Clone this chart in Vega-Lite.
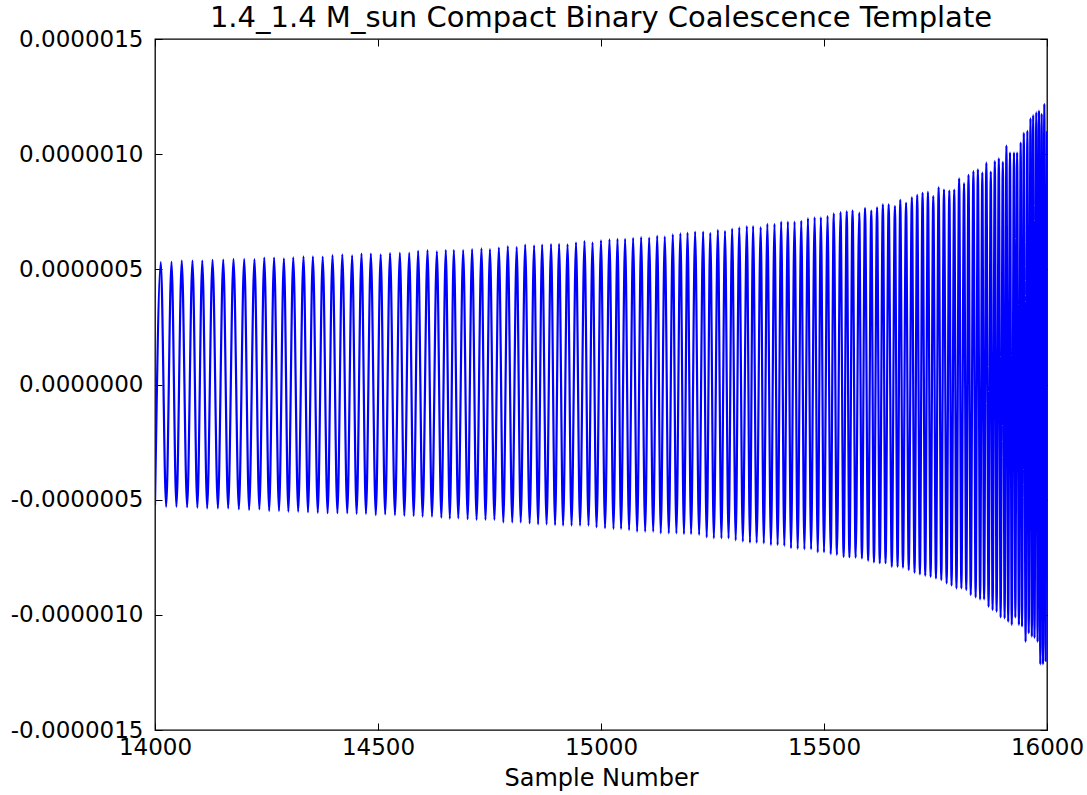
{
"$schema": "https://vega.github.io/schema/vega-lite/v6.json",
"width": 892,
"height": 691,
"autosize": {"type": "none"},
"padding": {"left": 155, "top": 39, "right": 40, "bottom": 65},
"background": "white",
"title": {"text": "1.4_1.4 M_sun Compact Binary Coalescence Template", "font": "DejaVu Sans", "fontSize": 29, "fontWeight": "normal", "color": "#000", "anchor": "middle", "offset": -5},
"config": {
  "view": {"stroke": "#000", "strokeWidth": 1.3},
  "axis": {"domain": false, "grid": false, "labelFont": "DejaVu Sans", "labelFontSize": 23, "labelColor": "#000", "tickColor": "#000", "tickSize": -7, "tickWidth": 1, "titleFont": "DejaVu Sans", "titleFontSize": 24, "titleFontWeight": "normal", "titleColor": "#000", "labelFlush": false, "labelOverlap": false}
},
"data": {"values": [
{"s":14000,"h":-5.23e-7},{"s":14013,"h":5.31e-7},{"s":14025,"h":-5.31e-7},{"s":14037,"h":5.33e-7},{"s":14048,"h":-5.31e-7},{"s":14060,"h":5.38e-7},{"s":14072,"h":-5.33e-7},{"s":14084,"h":5.38e-7},{"s":14095,"h":-5.35e-7},{"s":14106,"h":5.38e-7},
{"s":14117,"h":-5.38e-7},{"s":14129,"h":5.41e-7},{"s":14141,"h":-5.38e-7},{"s":14153,"h":5.42e-7},{"s":14164,"h":-5.38e-7},{"s":14176,"h":5.45e-7},{"s":14188,"h":-5.42e-7},{"s":14200,"h":5.45e-7},{"s":14211,"h":-5.45e-7},{"s":14223,"h":5.44e-7},
{"s":14234,"h":-5.42e-7},{"s":14245,"h":5.51e-7},{"s":14256,"h":-5.49e-7},{"s":14267,"h":5.51e-7},{"s":14278,"h":-5.49e-7},{"s":14289,"h":5.48e-7},{"s":14299,"h":-5.52e-7},{"s":14310,"h":5.52e-7},{"s":14321,"h":-5.52e-7},{"s":14333,"h":5.56e-7},
{"s":14343,"h":-5.55e-7},{"s":14354,"h":5.56e-7},{"s":14365,"h":-5.57e-7},{"s":14376,"h":5.55e-7},{"s":14387,"h":-5.59e-7},{"s":14398,"h":5.62e-7},{"s":14409,"h":-5.59e-7},{"s":14420,"h":5.65e-7},{"s":14431,"h":-5.59e-7},{"s":14442,"h":5.61e-7},
{"s":14452,"h":-5.62e-7},{"s":14463,"h":5.68e-7},{"s":14473,"h":-5.62e-7},{"s":14484,"h":5.68e-7},{"s":14495,"h":-5.67e-7},{"s":14506,"h":5.65e-7},{"s":14516,"h":-5.64e-7},{"s":14527,"h":5.70e-7},{"s":14538,"h":-5.67e-7},{"s":14549,"h":5.72e-7},
{"s":14559,"h":-5.70e-7},{"s":14570,"h":5.72e-7},{"s":14580,"h":-5.71e-7},{"s":14590,"h":5.80e-7},{"s":14600,"h":-5.74e-7},{"s":14611,"h":5.83e-7},{"s":14621,"h":-5.74e-7},{"s":14632,"h":5.78e-7},{"s":14642,"h":-5.79e-7},{"s":14652,"h":5.84e-7},
{"s":14661,"h":-5.83e-7},{"s":14670,"h":5.84e-7},{"s":14680,"h":-5.81e-7},{"s":14691,"h":5.84e-7},{"s":14701,"h":-5.85e-7},{"s":14711,"h":5.88e-7},{"s":14721,"h":-5.88e-7},{"s":14732,"h":5.91e-7},{"s":14741,"h":-5.88e-7},{"s":14751,"h":5.88e-7},
{"s":14761,"h":-5.88e-7},{"s":14771,"h":5.94e-7},{"s":14781,"h":-5.99e-7},{"s":14791,"h":6.01e-7},{"s":14801,"h":-5.99e-7},{"s":14811,"h":5.98e-7},{"s":14820,"h":-5.99e-7},{"s":14830,"h":6.07e-7},{"s":14840,"h":-6.03e-7},{"s":14850,"h":6.04e-7},
{"s":14859,"h":-6.07e-7},{"s":14868,"h":6.07e-7},{"s":14878,"h":-6.07e-7},{"s":14888,"h":6.10e-7},{"s":14897,"h":-6.10e-7},{"s":14906,"h":6.11e-7},{"s":14915,"h":-6.13e-7},{"s":14925,"h":6.09e-7},{"s":14934,"h":-6.13e-7},{"s":14944,"h":6.17e-7},
{"s":14953,"h":-6.13e-7},{"s":14963,"h":6.23e-7},{"s":14972,"h":-6.13e-7},{"s":14981,"h":6.17e-7},{"s":14990,"h":-6.20e-7},{"s":15000,"h":6.26e-7},{"s":15009,"h":-6.24e-7},{"s":15019,"h":6.30e-7},{"s":15028,"h":-6.27e-7},{"s":15037,"h":6.32e-7},
{"s":15045,"h":-6.27e-7},{"s":15054,"h":6.32e-7},{"s":15063,"h":-6.32e-7},{"s":15072,"h":6.36e-7},{"s":15081,"h":-6.39e-7},{"s":15090,"h":6.40e-7},{"s":15099,"h":-6.39e-7},{"s":15108,"h":6.38e-7},{"s":15117,"h":-6.39e-7},{"s":15126,"h":6.45e-7},
{"s":15134,"h":-6.46e-7},{"s":15143,"h":6.42e-7},{"s":15152,"h":-6.46e-7},{"s":15161,"h":6.52e-7},{"s":15169,"h":-6.46e-7},{"s":15178,"h":6.56e-7},{"s":15186,"h":-6.49e-7},{"s":15194,"h":6.59e-7},{"s":15202,"h":-6.49e-7},{"s":15211,"h":6.64e-7},
{"s":15220,"h":-6.53e-7},{"s":15229,"h":6.64e-7},{"s":15237,"h":-6.64e-7},{"s":15245,"h":6.58e-7},{"s":15253,"h":-6.68e-7},{"s":15262,"h":6.71e-7},{"s":15270,"h":-6.68e-7},{"s":15278,"h":6.67e-7},{"s":15286,"h":-6.68e-7},{"s":15294,"h":6.77e-7},
{"s":15302,"h":-6.77e-7},{"s":15310,"h":6.82e-7},{"s":15318,"h":-6.82e-7},{"s":15327,"h":6.88e-7},{"s":15334,"h":-6.87e-7},{"s":15341,"h":6.88e-7},{"s":15349,"h":-6.87e-7},{"s":15358,"h":6.83e-7},{"s":15365,"h":-6.90e-7},{"s":15373,"h":6.97e-7},
{"s":15381,"h":-6.97e-7},{"s":15389,"h":6.97e-7},{"s":15396,"h":-6.97e-7},{"s":15404,"h":7.07e-7},{"s":15411,"h":-7.01e-7},{"s":15419,"h":7.07e-7},{"s":15426,"h":-7.11e-7},{"s":15434,"h":7.07e-7},{"s":15441,"h":-7.14e-7},{"s":15449,"h":7.11e-7},
{"s":15456,"h":-7.16e-7},{"s":15464,"h":7.22e-7},{"s":15471,"h":-7.16e-7},{"s":15479,"h":7.26e-7},{"s":15486,"h":-7.29e-7},{"s":15493,"h":7.26e-7},{"s":15500,"h":-7.29e-7},{"s":15508,"h":7.32e-7},{"s":15515,"h":-7.36e-7},{"s":15522,"h":7.43e-7},
{"s":15529,"h":-7.40e-7},{"s":15537,"h":7.48e-7},{"s":15544,"h":-7.48e-7},{"s":15551,"h":7.52e-7},{"s":15557,"h":-7.50e-7},{"s":15564,"h":7.55e-7},{"s":15571,"h":-7.52e-7},{"s":15579,"h":7.46e-7},{"s":15585,"h":-7.55e-7},{"s":15592,"h":7.66e-7},
{"s":15599,"h":-7.65e-7},{"s":15606,"h":7.55e-7},{"s":15612,"h":-7.72e-7},{"s":15619,"h":7.69e-7},{"s":15625,"h":-7.76e-7},{"s":15632,"h":7.82e-7},{"s":15638,"h":-7.76e-7},{"s":15645,"h":7.82e-7},{"s":15652,"h":-7.91e-7},{"s":15659,"h":7.75e-7},
{"s":15665,"h":-7.91e-7},{"s":15671,"h":8.02e-7},{"s":15677,"h":-7.95e-7},{"s":15684,"h":7.89e-7},{"s":15690,"h":-8.05e-7},{"s":15697,"h":8.13e-7},{"s":15703,"h":-8.17e-7},{"s":15709,"h":8.23e-7},{"s":15715,"h":-8.24e-7},{"s":15721,"h":8.32e-7},
{"s":15727,"h":-8.30e-7},{"s":15733,"h":8.36e-7},{"s":15739,"h":-8.35e-7},{"s":15745,"h":8.18e-7},{"s":15751,"h":-8.42e-7},{"s":15757,"h":8.56e-7},{"s":15763,"h":-8.49e-7},{"s":15769,"h":8.46e-7},{"s":15775,"h":-8.63e-7},{"s":15781,"h":8.42e-7},
{"s":15786,"h":-8.73e-7},{"s":15792,"h":8.46e-7},{"s":15797,"h":-8.85e-7},{"s":15803,"h":8.95e-7},{"s":15808,"h":-8.85e-7},{"s":15814,"h":8.74e-7},{"s":15819,"h":-8.92e-7},{"s":15824,"h":9.10e-7},{"s":15829,"h":-9.14e-7},{"s":15835,"h":9.27e-7},
{"s":15840,"h":-9.24e-7},{"s":15845,"h":9.34e-7},{"s":15850,"h":-9.33e-7},{"s":15855,"h":9.20e-7},{"s":15859,"h":-9.33e-7},{"s":15864,"h":9.63e-7},{"s":15869,"h":-9.65e-7},{"s":15874,"h":9.24e-7},{"s":15878,"h":-9.79e-7},{"s":15883,"h":9.70e-7},
{"s":15887,"h":-9.86e-7},{"s":15892,"h":9.82e-7},{"s":15896,"h":-1.011e-6},{"s":15901,"h":9.67e-7},{"s":15905,"h":-1.015e-6},{"s":15909,"h":1.037e-6},{"s":15913,"h":-1.030e-6},{"s":15917,"h":1.007e-6},{"s":15921,"h":-1.044e-6},{"s":15926,"h":1.007e-6},
{"s":15929,"h":-1.011e-6},{"s":15933,"h":1.007e-6},{"s":15937,"h":-1.044e-6},{"s":15941,"h":1.050e-6},{"s":15944,"h":-1.051e-6},{"s":15948,"h":1.093e-6},{"s":15952,"h":-1.117e-6},{"s":15956,"h":1.101e-6},{"s":15959,"h":-1.080e-6},{"s":15963,"h":1.156e-6},
{"s":15966,"h":-1.095e-6},{"s":15969,"h":1.170e-6},{"s":15972,"h":-1.100e-6},{"s":15976,"h":1.182e-6},{"s":15979,"h":-1.117e-6},{"s":15982,"h":1.189e-6},{"s":15985,"h":-1.215e-6},{"s":15988,"h":1.175e-6},{"s":15991,"h":-1.215e-6},{"s":15994,"h":1.218e-6},
{"s":15997,"h":-1.200e-6},{"s":16000,"h":1.100e-6}
]},
"layer": [
  {
    "mark": {"type": "line", "color": "#0000ff", "strokeWidth": 2.2, "strokeJoin": "round", "interpolate": "monotone", "clip": true},
    "encoding": {
      "x": {"field": "s", "type": "quantitative", "scale": {"domain": [14000, 16000], "nice": false, "zero": false},
            "axis": {"orient": "bottom", "values": [14000, 14500, 15000, 15500, 16000], "format": "d", "title": "Sample Number", "labelPadding": 13, "titlePadding": 7}},
      "y": {"field": "h", "type": "quantitative", "scale": {"domain": [-1.5e-6, 1.5e-6], "nice": false, "zero": false},
            "axis": {"orient": "left", "values": [-1.5e-6, -1e-6, -5e-7, 0, 5e-7, 1e-6, 1.5e-6], "labelExpr": "(datum.value < 0 ? '-' : '') + format(abs(datum.value), '.7f')", "title": null, "labelPadding": 19}}
    }
  },
  {
    "mark": {"type": "line", "strokeOpacity": 0},
    "encoding": {
      "x": {"field": "s", "type": "quantitative", "axis": {"orient": "top", "values": [14000, 14500, 15000, 15500, 16000], "labels": false, "title": null}},
      "y": {"field": "h", "type": "quantitative", "axis": {"orient": "right", "values": [-1.5e-6, -1e-6, -5e-7, 0, 5e-7, 1e-6, 1.5e-6], "labels": false, "title": null}}
    }
  }
],
"resolve": {"axis": {"x": "independent", "y": "independent"}}
}
